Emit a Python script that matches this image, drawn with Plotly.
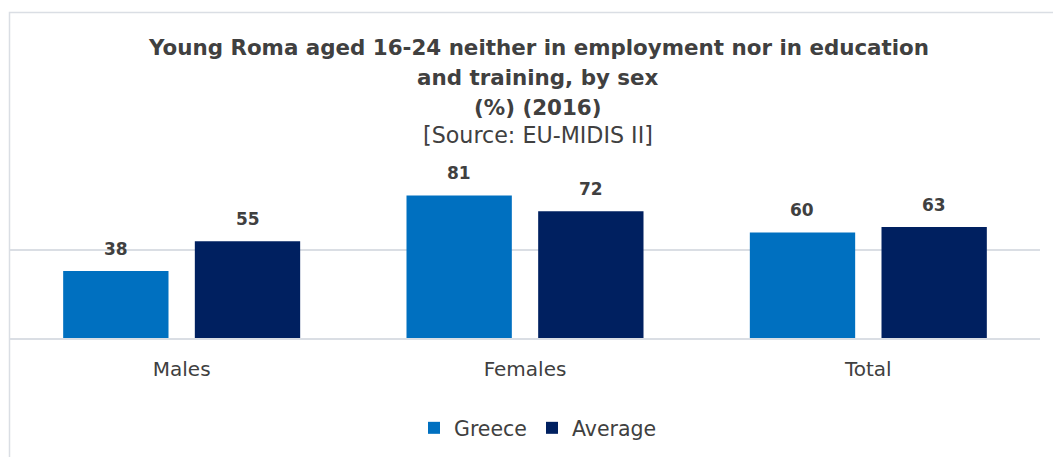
import plotly.graph_objects as go

categories = ["Males", "Females", "Total"]
greece = [38, 81, 60]
average = [55, 72, 63]
series_names = ["Greece", "Average"]
title_lines = [
    "<b>Young Roma aged 16-24 neither in employment nor in education</b>",
    "<b>and training, by sex</b>",
    "<b>(%) (2016)</b>",
    "[Source: EU-MIDIS II]",
]

FONT = "DejaVu Sans"
TXT = "#404040"
GRID = "#DADEE4"
COLORS = ["#0070C0", "#002060"]

W, H = 1053, 457
L, R, T, B = 10, 13, 162, 119
PH = H - T - B


def py(p):
    return (H - B - p) / PH


def px(p):
    return (p - L) / (W - L - R)


fig = go.Figure()
for name, vals, col in zip(series_names, [greece, average], COLORS):
    fig.add_trace(go.Bar(name=name, x=categories, y=vals, marker_color=col,
                         marker_line_width=0))

annotations = []
for vals, shift in zip([greece, average], [-66, 66]):
    for c, v in zip(categories, vals):
        annotations.append(dict(x=c, y=v, xref="x", yref="y", text=f"<b>{v}</b>",
                                showarrow=False, xshift=shift, yshift=10,
                                yanchor="bottom",
                                font=dict(family=FONT, size=17, color=TXT)))

title_centers = [47, 77, 107, 135]
title_sizes = [21.4, 21.4, 21.4, 22.2]
for t, c, s in zip(title_lines, title_centers, title_sizes):
    annotations.append(dict(x=px(538), y=py(c), xref="paper", yref="paper", text=t,
                            showarrow=False, xanchor="center", yanchor="middle",
                            font=dict(family=FONT, size=s, color=TXT)))

fig.update_layout(
    width=W, height=H,
    margin=dict(l=L, r=R, t=T, b=B, autoexpand=False),
    paper_bgcolor="white", plot_bgcolor="white",
    barmode="group", bargap=0.233, bargroupgap=0.2,
    font=dict(family=FONT, color=TXT, size=20),
    showlegend=True,
    legend=dict(orientation="h", x=px(538), xanchor="center", y=py(428), yanchor="middle",
                font=dict(family=FONT, size=20.5, color=TXT), traceorder="normal"),
    annotations=annotations,
    shapes=[dict(type="rect", xref="paper", yref="paper",
                 x0=px(9.5), x1=px(1070), y0=py(480), y1=py(12.5),
                 line=dict(color=GRID, width=1.5), fillcolor="rgba(0,0,0,0)", layer="below")],
)
fig.update_xaxes(showgrid=False, ticks="", showline=True, linecolor=GRID, linewidth=1.5,
                 tickfont=dict(family=FONT, size=20, color=TXT), ticklabelstandoff=12)
fig.update_yaxes(range=[0, 100], dtick=50, showgrid=True, gridcolor=GRID, gridwidth=1.5,
                 showticklabels=False, zeroline=False, ticks="")

fig.write_html("out.html", config={"displayModeBar": False},
               post_script="document.body.style.margin='0';document.body.style.overflow='hidden';")
